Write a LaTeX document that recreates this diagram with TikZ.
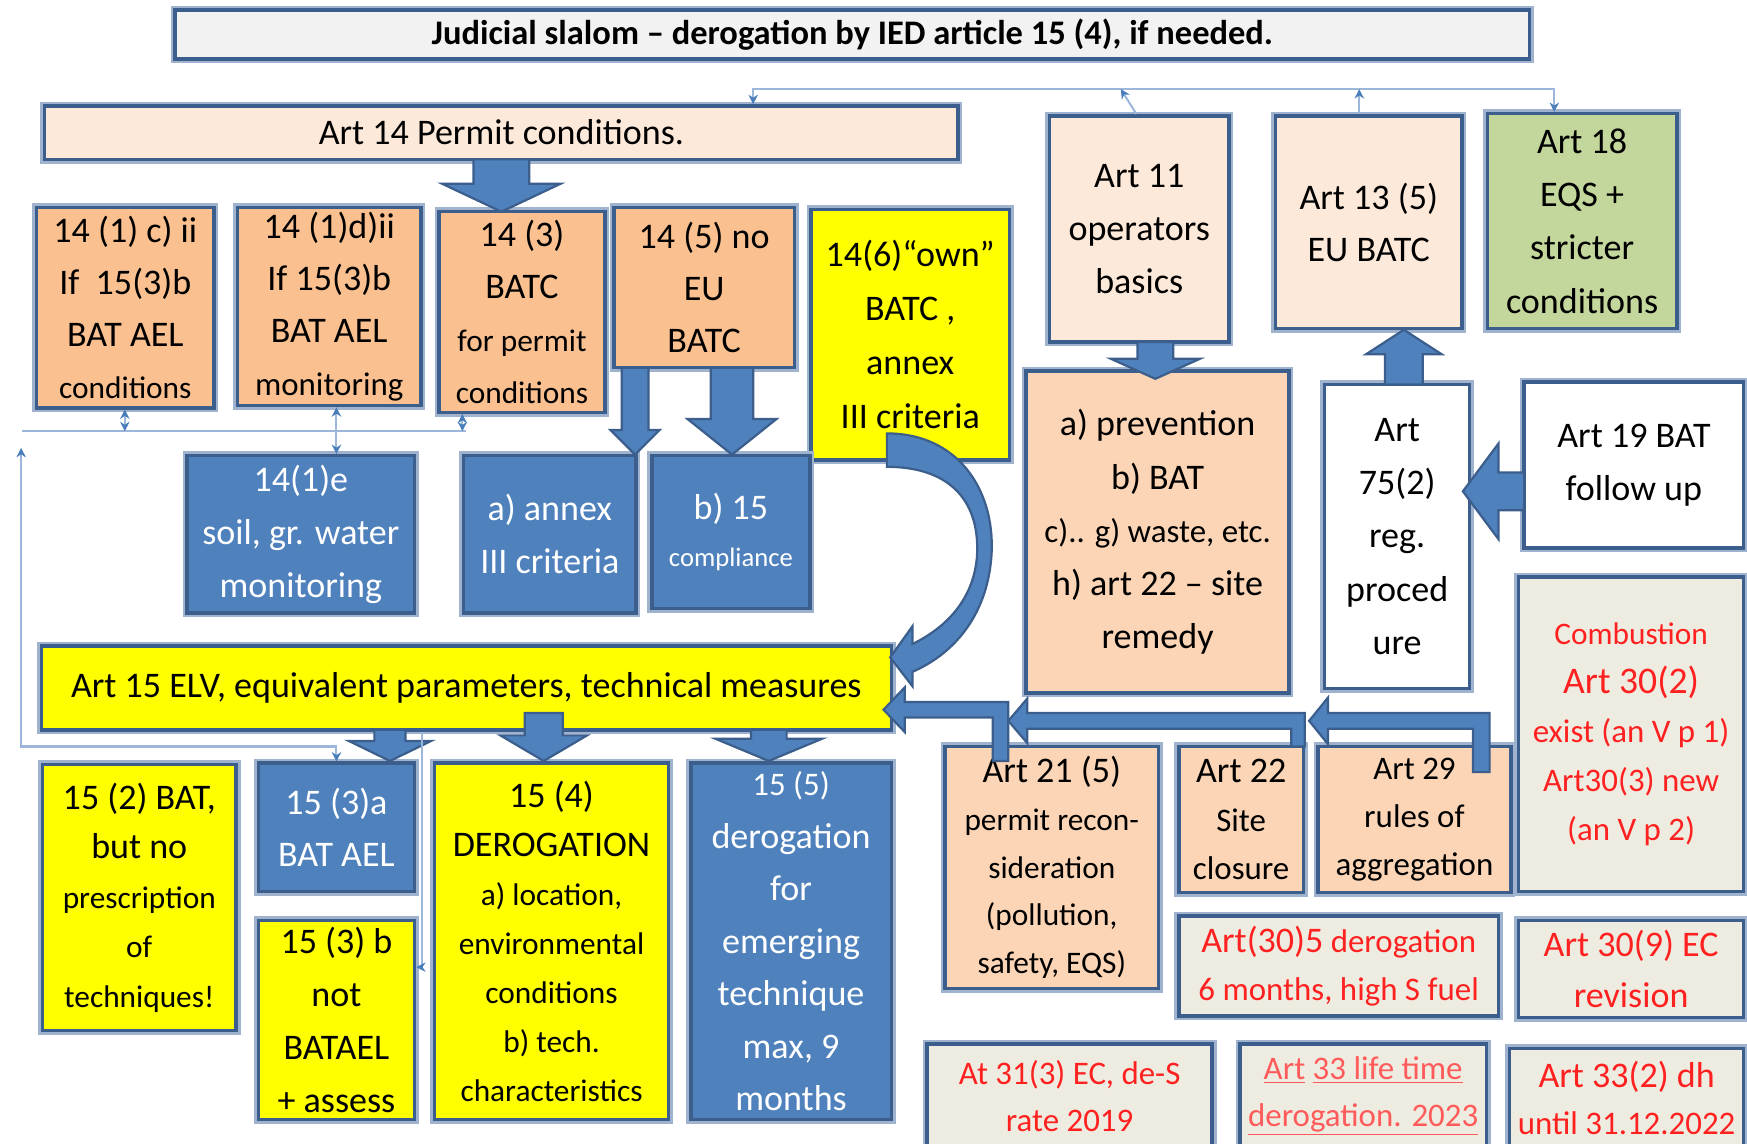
\documentclass[tikz,border=0pt]{standalone}
\usepackage{fontspec}
\setmainfont{Carlito}
\usetikzlibrary{arrows.meta}
\definecolor{bdr}{HTML}{3B5E8C}
\definecolor{halo}{HTML}{9FB3CE}
\definecolor{peach}{HTML}{FDE9D9}
\definecolor{orng}{HTML}{FAC090}
\definecolor{lorng}{HTML}{FBD5B5}
\definecolor{blu}{HTML}{4F81BD}
\definecolor{yel}{HTML}{FFFF00}
\definecolor{grn}{HTML}{C3D69B}
\definecolor{gry}{HTML}{EEECE1}
\definecolor{ttl}{HTML}{F2F2F2}
\definecolor{redt}{HTML}{FF2020}
\definecolor{pinkt}{HTML}{FF5B5B}
\definecolor{conn}{HTML}{9CB7DA}
\definecolor{tipc}{HTML}{4A7EBB}
\newcommand\fs[1]{\fontsize{#1}{#1}\selectfont}
\newcommand\bx[7]{\node[#6, minimum width={(#4-#2)*0.025cm}, minimum height={(#5-#3)*0.025cm}] (#1) at ({(#2+#4)/2},{(#3+#5)/2}) {#7};}
\newcommand\varr[6]{\filldraw[blockarr] ({#1-#5},#2) -- ({#1-#5},#3) -- ({#1-#6},#3) -- (#1,#4) -- ({#1+#6},#3) -- ({#1+#5},#3) -- ({#1+#5},#2) -- cycle;}
\newcommand\harr[6]{\filldraw[blockarr] (#2,{#1-#5}) -- (#3,{#1-#5}) -- (#3,{#1-#6}) -- (#4,#1) -- (#3,{#1+#6}) -- (#3,{#1+#5}) -- (#2,{#1+#5}) -- cycle;}
\tikzset{
  box/.style={draw=bdr, line width=2.2pt, preaction={draw=halo, line width=5.5pt}, inner sep=0pt, align=center, font=\fontsize{23}{33.5}\selectfont, text=black},
  bluebox/.style={box, fill=blu, text=white},
  redbox/.style={box, fill=gry, text=redt},
  blockarr/.style={fill=blu, draw=bdr, line width=1.4pt, line join=miter},
  thinc/.style={draw=conn, line width=1.3pt},
  tp/.tip={Stealth[length=6pt,width=6pt,color=tipc]}
}
\begin{document}
\begin{tikzpicture}[x=0.025cm, y=-0.025cm]
\useasboundingbox (0,0) rectangle (1568,1026);
\clip (0,0) rectangle (1568,1026);

% top
\bx{title}{157}{9}{1373}{53}{box, fill=ttl, font=\bfseries\fontsize{22}{26}\selectfont}{Judicial slalom – derogation by IED article 15 (4), if needed.}
\bx{a14}{40}{95}{860}{143}{box, fill=peach}{Art 14 Permit conditions.}

% row of art 14 items
\bx{c1}{33}{186}{192}{366}{box, fill=orng, font=\fontsize{23}{33.3}\selectfont}{14 (1) c) ii\\If\ \ 15(3)b\\BAT AEL\\{\fs{20}conditions}}
\bx{c2}{213}{186}{378}{364}{box, fill=orng, font=\fontsize{23}{33.3}\selectfont}{14 (1)d)ii\\If 15(3)b\\BAT AEL\\{\fs{21}monitoring}}
\bx{c3}{394}{190}{543}{370}{box, fill=orng, font=\fontsize{23}{33.3}\selectfont}{14 (3)\\BATC\\{\fs{20}for permit}\\{\fs{20}conditions}}
\bx{c5}{551}{186}{713}{330}{box, fill=orng, font=\fontsize{23}{33.5}\selectfont}{14 (5) no\\EU\\BATC}
\bx{c6}{728}{188}{906}{413}{box, fill=yel, font=\fontsize{23}{34.5}\selectfont}{14(6)“own”\\BATC ,\\annex\\III criteria}

\bx{e1}{168}{409}{372}{550}{bluebox, font=\fontsize{23}{34}\selectfont}{14(1)e\\soil, gr. water\\monitoring}
\bx{an}{416}{409}{571}{550}{bluebox, font=\fontsize{23}{34}\selectfont}{a) annex\\III criteria}
\bx{b15}{585}{409}{727}{546}{bluebox, font=\fontsize{23}{30}\selectfont}{b) 15\\{\fs{17}compliance}}

% right upper
\bx{a11}{942}{104}{1103}{307}{box, fill=peach, font=\fontsize{23}{34}\selectfont}{Art 11\\operators\\basics}
\bx{a13}{1145}{104}{1312}{295}{box, fill=peach, font=\fontsize{23}{33.5}\selectfont}{Art 13 (5)\\EU BATC}
\bx{a18}{1335}{102}{1505}{295}{box, fill=grn, font=\fontsize{23}{34}\selectfont}{Art 18\\EQS +\\stricter\\conditions}
\bx{prev}{921}{333}{1157}{622}{box, fill=lorng, font=\fontsize{23}{34}\selectfont}{a) prevention\\b) BAT\\{\fs{21}c).. g) waste, etc.}\\h) art 22 – site\\remedy}
\bx{a75}{1189}{345}{1319}{618}{box, fill=white, font=\fontsize{23}{34}\selectfont}{Art\\75(2)\\reg.\\proced\\ure}
\bx{a19}{1368}{343}{1565}{492}{box, fill=white, font=\fontsize{23}{33.5}\selectfont}{Art 19 BAT\\follow up}
\bx{comb}{1363}{518}{1565}{800}{redbox, font=\fontsize{21}{31.3}\selectfont}{{\fs{20}Combustion}\\{\fs{24}Art 30(2)}\\exist (an V p 1)\\Art30(3) new\\(an V p 2)}

% Art 15
\bx{a15}{37}{580}{800}{655}{box, fill=yel}{Art 15 ELV, equivalent parameters, technical measures}

\bx{d2}{38}{686}{212}{925}{box, fill=yel, font=\fontsize{23}{31.6}\selectfont}{15 (2) BAT,\\but no\\{\fs{20}prescription}\\{\fs{20}of}\\{\fs{20}techniques!}}
\bx{d3a}{232}{685}{372}{800}{bluebox, font=\fontsize{23}{33.3}\selectfont}{15 (3)a\\BAT AEL}
\bx{d3b}{232}{826}{372}{1005}{box, fill=yel, font=\fontsize{23}{34}\selectfont}{15 (3) b\\not\\BATAEL\\+ assess}
\bx{d4}{390}{685}{600}{1005}{box, fill=yel, font=\fontsize{23}{31.2}\selectfont}{15 (4)\\DEROGATION\\{\fs{20}a) location,}\\{\fs{20}environmental}\\{\fs{20}conditions}\\{\fs{20}b) tech.}\\{\fs{20}characteristics}}
\bx{d5}{620}{685}{800}{1005}{bluebox, font=\fontsize{23}{33.5}\selectfont}{{\fs{21}15 (5)}\\derogation\\for\\emerging\\technique\\max, 9\\months}

% lower right
\bx{a21}{848}{670}{1040}{887}{box, fill=lorng, font=\fontsize{23}{30.5}\selectfont}{Art 21 (5)\\{\fs{20}permit recon-}\\{\fs{20}sideration}\\{\fs{20}(pollution,}\\{\fs{20}safety, EQS)}}
\bx{a22}{1058}{670}{1170}{801}{box, fill=lorng, font=\fontsize{23}{31.2}\selectfont}{Art 22\\{\fs{21}Site}\\{\fs{21}closure}}
\bx{a29}{1183}{670}{1356}{801}{box, fill=lorng, font=\fontsize{21}{30.5}\selectfont}{Art 29\\rules of\\aggregation}
\bx{g305}{1058}{822}{1345}{912}{redbox, font=\fontsize{21}{30.5}\selectfont}{{\fs{23}Art(30)5} derogation\\6 months, high S fuel}
\bx{g309}{1363}{826}{1565}{913}{redbox, font=\fontsize{23}{32.6}\selectfont}{Art 30(9) EC\\revision}
\bx{g31}{832}{937}{1088}{1030}{redbox, font=\fontsize{21}{29.8}\selectfont}{At 31(3) EC, de-S\\rate 2019}
\bx{g33}{1113}{937}{1334}{1030}{box, fill=gry, text=pinkt, font=\fontsize{21}{29.8}\selectfont}{\underline{Art}~\underline{33 life time}\\\underline{derogation. 2023}}
\bx{g332}{1355}{941}{1565}{1030}{redbox, font=\fontsize{23}{30.5}\selectfont}{Art 33(2) dh\\{\fs{21}until 31.12.2022}}

% block arrows
\varr{450}{143}{165}{190}{25}{53}
\varr{570}{330}{386}{408}{12}{22}
\varr{657}{330}{376}{408}{19}{40}
\varr{1037}{307}{322}{340}{16}{40}
\varr{1260}{345}{318}{296}{17}{34}
\harr{441}{1368}{1345}{1313}{17}{43}
\varr{350}{655}{665}{683}{14}{37}
\varr{488}{640}{660}{683}{17}{39}
\varr{690}{655}{663}{683}{16}{48}

% L-shaped block arrows
\filldraw[blockarr] (905,683) -- (905,630) -- (812,630) -- (812,617) -- (793,637) -- (812,657) -- (812,644) -- (891,644) -- (891,683) -- cycle;
\filldraw[blockarr] (1171,670) -- (1171,640) -- (922,640) -- (922,627) -- (905,647) -- (922,667) -- (922,654) -- (1159,654) -- (1159,670) -- cycle;
\filldraw[blockarr] (1337,693) -- (1337,640) -- (1192,640) -- (1192,626) -- (1175,647) -- (1192,668) -- (1192,654) -- (1322,654) -- (1322,693) -- cycle;

% curved arrow
\filldraw[blockarr] (796,389) .. controls (860,389) and (893,440) .. (890,497) .. controls (887,548) and (860,585) .. (819,603) -- (819,616) -- (799,590) -- (819,562) -- (819,578) .. controls (852,562) and (875,535) .. (877,497) .. controls (879,447) and (850,419) .. (796,419) -- cycle;

% thin connectors, top
\coordinate (tA) at (676,80);
\coordinate (tB) at (1395,80);
\coordinate (t11) at (1006,80);
\coordinate (b11) at (1020,104);
\coordinate (t13) at (1220,80);
\draw[thinc, tp-tp] (a14.north -| tA) -- (tA) -- (tB) -- (a18.north -| tB);
\draw[thinc, -tp] (a11.north -| b11) -- (t11);
\draw[thinc, -tp] (a13.north -| t13) -- (t13);

% thin connectors, left
\coordinate (L1) at (20,387);
\coordinate (L2) at (418,387);
\coordinate (x112) at (112,387);
\coordinate (x302) at (302,387);
\coordinate (x415) at (415,387);
\coordinate (lt) at (19,402);
\coordinate (lb) at (19,670);
\coordinate (r2) at (379,868);
\draw[thinc] (L1) -- (L2);
\draw[thinc, tp-tp] (c1.south -| x112) -- (x112);
\draw[thinc, tp-tp] (c2.south -| x302) -- (e1.north -| x302);
\draw[thinc, tp-tp] (c3.south -| x415) -- (x415);
\draw[thinc, tp-tp] (lt) -- (lb) -- (lb -| x302) -- (d3a.north -| x302);
\draw[thinc, -tp] (a15.south -| r2) -- (r2) -- (d3b.east |- r2);
\end{tikzpicture}
\end{document}
